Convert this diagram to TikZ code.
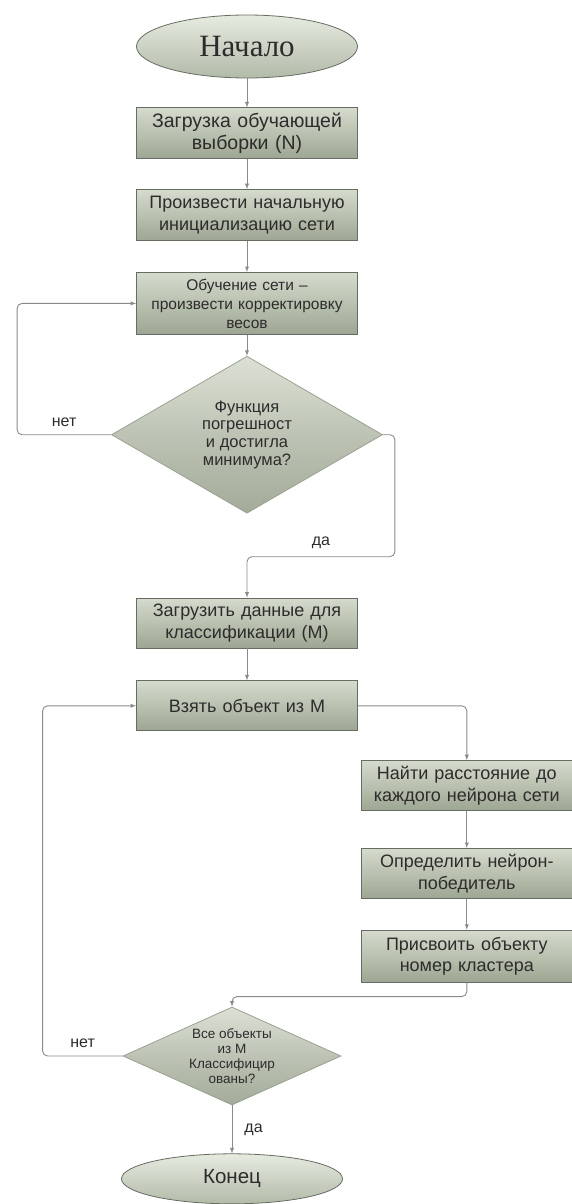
\documentclass[tikz,border=0pt]{standalone}
\usepackage{fontspec}
\setmainfont{Liberation Sans}
\newfontfamily\headfont{Liberation Serif}
\usetikzlibrary{positioning,shapes.geometric}

\definecolor{boxtop}{HTML}{D5DBCD}
\definecolor{boxbot}{HTML}{9DA692}
\definecolor{boxline}{HTML}{676D62}
\definecolor{condtop}{HTML}{DCE1D5}
\definecolor{condbot}{HTML}{A3AB99}
\definecolor{condline}{HTML}{9AA192}
\definecolor{termtop}{HTML}{E6EBE0}
\definecolor{termbot}{HTML}{B2BAA8}
\definecolor{linecol}{HTML}{8A8A8A}
\definecolor{txtcol}{HTML}{2C2C2C}

\begin{document}
\begin{tikzpicture}[
	main/.style={rectangle, text centered, text width=210pt, minimum width=221pt, minimum height=51pt, inner sep=2pt, draw=boxline, line width=0.8pt, top color=boxtop, bottom color=boxbot, text=txtcol, font=\fontsize{18}{21.5}\selectfont},
	cond/.style={diamond, align=center, inner sep=0pt, draw=condline, line width=0.8pt, top color=condtop, bottom color=condbot, middle color=condbot!55!condtop, text=txtcol},
	term/.style={ellipse, minimum width=221pt, draw=boxline, line width=0.8pt, top color=termtop, bottom color=termbot, text=txtcol},
	lbl/.style={inner sep=0pt, text=txtcol, font=\fontsize{16}{18}\selectfont},
	arr/.style={-latex, draw=linecol, line width=0.9pt, rounded corners=5pt}
	]
	\useasboundingbox (0,0) rectangle (571pt,-1204pt);

		\node (start) [term, minimum height=63pt, font=\headfont\fontsize{31}{34}\selectfont] at (247pt,-46.5pt) {Начало};
			\node (loadtrain) [main, below=29pt of start, font=\fontsize{19.5}{22}\selectfont] {Загрузка обучающей\\ выборки (N)};
			\node (init) [main, below=30pt of loadtrain] {Произвести начальную\\ инициализацию сети};
			\node (train) [main, below=31pt of init, minimum height=62pt, font=\fontsize{15.5}{19}\selectfont] {Обучение сети –\\ произвести корректировку\\ весов};
			\node (check1) [cond, below=21pt of train, minimum width=271pt, minimum height=157pt, aspect=1.73, font=\fontsize{16.5}{17.7}\selectfont] {Функция\\ погрешност\\ и достигла\\ минимума?};
		\node (loadclass) [main, below=84pt of check1, minimum height=50pt] {Загрузить данные для\\ классификации (M)};
		\node (take) [main, below=32pt of loadclass, minimum height=50pt] {Взять объект из M};
				\node (dist) [main, below right=29pt and 3pt of take.south east, minimum width=211pt, text width=205pt, minimum height=50pt] {Найти расстояние до\\ каждого нейрона сети};
				\node (winner) [main, below=37pt of dist, minimum width=211pt, text width=205pt, minimum height=50pt] {Определить нейрон-\\ победитель};
				\node (assign) [main, below=31pt of winner, minimum width=211pt, text width=205pt, minimum height=52pt] {Присвоить объекту\\ номер кластера};
		\node (check2) [cond, minimum width=218pt, minimum height=98pt, aspect=2.22, font=\fontsize{13.5}{15}\selectfont] at (232pt,-1056pt) {Все объекты\\ из M\\ Классифицир\\ ованы?};
		\node (finish) [term, below=48pt of check2, minimum height=50pt, font=\fontsize{20.5}{23}\selectfont] {Конец};

	\draw [arr] (start) -- (loadtrain);
	\draw [arr] (loadtrain) -- (init);
	\draw [arr] (init) -- (train);
	\draw [arr] (train) -- (check1);
	\draw [arr] (check1.west) -- node[lbl, above=8pt] {нет} ++(-94pt,0) |- (train.west);
	\draw [arr] (check1.east) -- ++(12pt,0) -- ++(0,-122pt) -| node[lbl, above=8pt, pos=0.25] {да} (loadclass.north);
	\draw [arr] (loadclass) -- (take);
	\draw [arr] (take.east) -| (dist.north);
	\draw [arr] (dist) -- (winner);
	\draw [arr] (winner) -- (assign);
	\draw [arr] (assign.south) -- ++(0,-14pt) -| (check2.north);
	\draw [arr] (check2.west) -- node[lbl, above=8pt] {нет} ++(-80pt,0) |- (take.west);
	\draw [arr] (check2.south) -- node[lbl, right=12pt] {да} (finish.north);

\end{tikzpicture}
\end{document}
